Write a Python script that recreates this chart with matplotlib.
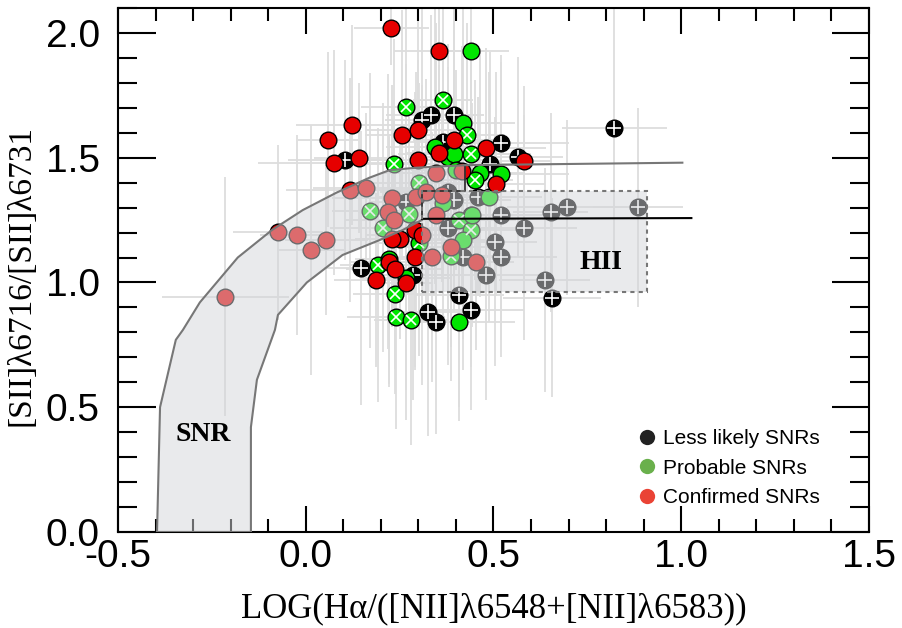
import numpy as np
import matplotlib
matplotlib.use("Agg")
import matplotlib.pyplot as plt
from matplotlib.patches import Polygon, Rectangle
from matplotlib.lines import Line2D
from matplotlib.ticker import MultipleLocator, FormatStrFormatter

# Less likely SNRs (black)
x_less = [0.104, 0.310, 0.334, 0.396, 0.520, 0.565, 0.491, 0.148, 0.285, 0.407, 0.440,
          0.325, 0.346, 0.655, 0.822, 0.365, 0.378, 0.396, 0.458, 0.520, 0.582, 0.653,
          0.695, 0.378, 0.440, 0.505, 0.520, 0.418, 0.479, 0.636, 0.268, 0.884]
y_less = [1.491, 1.651, 1.671, 1.671, 1.560, 1.504, 1.475, 1.057, 1.030, 0.950, 0.890,
          0.883, 0.843, 0.939, 1.620, 1.564, 1.364, 1.331, 1.344, 1.271, 1.220, 1.281,
          1.301, 1.220, 1.271, 1.164, 1.101, 1.101, 1.030, 1.010, 1.324, 1.301]
xerr_less = [0.15, 0.10, 0.12, 0.08, 0.18, 0.12, 0.20, 0.10, 0.09, 0.12, 0.14, 0.10, 0.11,
             0.13, 0.14, 0.10, 0.12, 0.15, 0.09, 0.18, 0.14, 0.10, 0.16, 0.12, 0.20, 0.11,
             0.15, 0.13, 0.17, 0.12, 0.10, 0.12]
yerr_less = [0.40, 0.45, 0.40, 0.50, 0.35, 0.40, 0.45, 0.55, 0.50, 0.45, 0.40, 0.50, 0.45,
             0.40, 0.55, 0.35, 0.50, 0.45, 0.40, 0.50, 0.45, 0.40, 0.35, 0.55, 0.45, 0.50,
             0.40, 0.45, 0.50, 0.45, 0.55, 0.40]

# Probable SNRs (green); crossed = drawn with a white x
x_prob = [0.440, 0.266, 0.365, 0.418, 0.430, 0.440, 0.235, 0.343, 0.378, 0.396, 0.465,
          0.520, 0.452, 0.489, 0.301, 0.192, 0.221, 0.237, 0.241, 0.281, 0.407, 0.268,
          0.170, 0.205, 0.274, 0.301, 0.365, 0.409, 0.440, 0.418, 0.443, 0.386, 0.401]
y_prob = [1.929, 1.702, 1.731, 1.640, 1.591, 1.515, 1.474, 1.544, 1.504, 1.515, 1.440,
          1.435, 1.411, 1.342, 1.157, 1.070, 1.093, 0.954, 0.861, 0.850, 0.843, 1.017,
          1.288, 1.220, 1.273, 1.400, 1.317, 1.251, 1.212, 1.172, 1.271, 1.106, 1.451]
crossed_prob = [0, 1, 1, 0, 1, 1, 1, 0, 0, 0, 0, 0, 1, 0, 1, 1, 0, 1, 1, 1, 0, 0, 1, 1,
                1, 1, 0, 1, 1, 0, 0, 1, 0]
xerr_prob = [0.10, 0.12, 0.08, 0.14, 0.10, 0.16, 0.11, 0.13, 0.09, 0.15, 0.12, 0.18, 0.10,
             0.14, 0.12, 0.10, 0.09, 0.11, 0.13, 0.10, 0.15, 0.12, 0.10, 0.14, 0.11, 0.13,
             0.09, 0.15, 0.12, 0.10, 0.16, 0.11, 0.12]
yerr_prob = [0.20, 0.45, 0.40, 0.50, 0.45, 0.40, 0.50, 0.55, 0.45, 0.40, 0.50, 0.45, 0.40,
             0.50, 0.45, 0.55, 0.50, 0.40, 0.45, 0.50, 0.40, 0.45, 0.55, 0.50, 0.45, 0.40,
             0.50, 0.45, 0.55, 0.40, 0.45, 0.50, 0.40]

# Confirmed SNRs (red)
x_conf = [0.228, 0.355, 0.123, 0.059, 0.074, 0.141, 0.257, 0.299, 0.299, 0.354, 0.396,
          0.479, 0.582, 0.507, 0.416, 0.290, 0.250, 0.231, 0.310, 0.290, 0.221, 0.237,
          0.186, 0.266, 0.117, 0.160, -0.074, -0.022, 0.013, 0.055, -0.214, 0.230, 0.219,
          0.235, 0.294, 0.319, 0.363, 0.346, 0.346, 0.337, 0.386, 0.454]
y_conf = [2.021, 1.929, 1.630, 1.572, 1.480, 1.500, 1.591, 1.611, 1.491, 1.520, 1.571,
          1.540, 1.488, 1.394, 1.448, 1.212, 1.173, 1.173, 1.190, 1.101, 1.083, 1.053,
          1.010, 0.999, 1.371, 1.380, 1.201, 1.190, 1.130, 1.170, 0.943, 1.340, 1.284,
          1.250, 1.344, 1.364, 1.351, 1.438, 1.271, 1.101, 1.141, 1.081]
xerr_conf = [0.10, 0.12, 0.15, 0.08, 0.20, 0.12, 0.10, 0.14, 0.18, 0.09, 0.11, 0.16, 0.07,
             0.13, 0.10, 0.06, 0.12, 0.09, 0.15, 0.08, 0.10, 0.13, 0.11, 0.07, 0.17, 0.14,
             0.12, 0.10, 0.09, 0.11, 0.17, 0.16, 0.08, 0.13, 0.10, 0.12, 0.09, 0.14, 0.11,
             0.08, 0.12, 0.10]
yerr_conf = [0.15, 0.30, 0.40, 0.35, 0.45, 0.30, 0.50, 0.45, 0.40, 0.35, 0.55, 0.40, 0.30,
             0.45, 0.50, 0.55, 0.40, 0.35, 0.60, 0.45, 0.50, 0.40, 0.35, 0.55, 0.45, 0.30,
             0.35, 0.40, 0.50, 0.30, 0.48, 0.45, 0.55, 0.40, 0.50, 0.45, 0.35, 0.60, 0.45,
             0.50, 0.40, 0.35]

# SNR region boundaries
snr_upper_x = [-0.396, -0.388, -0.346, -0.327, -0.282, -0.181, -0.090, -0.008, 0.082,
               0.170, 0.223, 0.295, 0.423]
snr_upper_y = [0.0, 0.50, 0.77, 0.81, 0.92, 1.10, 1.21, 1.29, 1.36, 1.42, 1.45, 1.46, 1.47]
snr_lower_x = [-0.146, -0.146, -0.130, -0.082, -0.074, 0.003, 0.098, 0.197, 0.258, 0.309]
snr_lower_y = [0.0, 0.42, 0.61, 0.81, 0.87, 1.00, 1.11, 1.17, 1.21, 1.25]
step_x = [0.423, 0.423, 0.310, 0.310]
step_y = [1.47, 1.367, 1.367, 1.255]
upper_ext_x = [0.423, 1.003]
upper_ext_y = [1.47, 1.48]
lower_ext_x = [0.310, 1.027]
lower_ext_y = [1.255, 1.258]

# HII box
hii_x0, hii_x1 = 0.31, 0.91
hii_y0, hii_y1 = 0.962, 1.367

plt.rcParams['font.family'] = 'Liberation Sans'

fig = plt.figure(figsize=(9.02, 6.28), dpi=100)
ax = fig.add_axes([0.1308, 0.1529, 0.8326, 0.8344])

err_kw = dict(fmt='none', ecolor='#dddddd', elinewidth=1.3, capsize=0, zorder=1)
ax.errorbar(x_less, y_less, xerr=xerr_less, yerr=yerr_less, **err_kw)
ax.errorbar(x_prob, y_prob, xerr=xerr_prob, yerr=yerr_prob, **err_kw)
ax.errorbar(x_conf, y_conf, xerr=xerr_conf, yerr=yerr_conf, **err_kw)

ms = 12
ax.plot(x_less, y_less, 'o', ms=ms, mfc='black', mec='black', mew=1, zorder=2)
ax.plot(x_less, y_less, '+', ms=ms * 0.85, mec='white', mew=1.2, zorder=2.1)

xp = np.array(x_prob)
yp = np.array(y_prob)
cp = np.array(crossed_prob, dtype=bool)
ax.plot(xp, yp, 'o', ms=ms, mfc='#00e600', mec='black', mew=1, zorder=2.2)
ax.plot(xp[cp], yp[cp], 'x', ms=ms * 0.6, mec='white', mew=1.2, zorder=2.3)

ax.plot(x_conf, y_conf, 'o', ms=ms, mfc='#e60000', mec='black', mew=1, zorder=2.4)

# shaded regions on top of the points
fill = '#d4d6da'
snr_poly = list(zip(snr_upper_x, snr_upper_y)) + list(zip(step_x[1:], step_y[1:])) + \
    list(zip(snr_lower_x[::-1], snr_lower_y[::-1]))
ax.add_patch(Polygon(snr_poly, closed=True, facecolor=fill, alpha=0.5,
                     edgecolor='none', zorder=3))
ax.plot(snr_upper_x, snr_upper_y, color='#777777', lw=1.5, zorder=4)
ax.plot(snr_lower_x, snr_lower_y, color='#777777', lw=1.5, zorder=4)
ax.plot([snr_upper_x[0], snr_lower_x[0]], [0, 0], color='#777777', lw=1.5, zorder=4)
ax.plot(step_x, step_y, color='#333333', lw=1.3, zorder=4)
ax.plot(upper_ext_x, upper_ext_y, color='#777777', lw=1.5, zorder=4)
ax.plot(lower_ext_x, lower_ext_y, color='black', lw=1.5, zorder=4)

ax.add_patch(Rectangle((hii_x0, hii_y0), hii_x1 - hii_x0, hii_y1 - hii_y0,
                       facecolor=fill, alpha=0.5, edgecolor='none', zorder=3))
ax.add_patch(Rectangle((hii_x0, hii_y0), hii_x1 - hii_x0, hii_y1 - hii_y0,
                       facecolor='none', edgecolor='#777777', lw=1.5, ls=(0, (2, 2)),
                       zorder=4))

ax.text(-0.274, 0.389, 'SNR', family='Liberation Serif', fontweight='bold', fontsize=20,
        ha='center', va='center', zorder=5)
ax.text(0.787, 1.078, 'HII', family='Liberation Serif', fontweight='bold', fontsize=20,
        ha='center', va='center', zorder=5)

ax.set_xlim(-0.5, 1.5)
ax.set_ylim(0, 2.1)
ax.xaxis.set_major_locator(MultipleLocator(0.5))
ax.xaxis.set_minor_locator(MultipleLocator(0.1))
ax.yaxis.set_major_locator(MultipleLocator(0.5))
ax.yaxis.set_minor_locator(MultipleLocator(0.1))
ax.xaxis.set_major_formatter(FormatStrFormatter('%.1f'))
ax.yaxis.set_major_formatter(FormatStrFormatter('%.1f'))
ax.tick_params(axis='x', which='major', direction='in', length=19, width=1.5,
               top=True, labelsize=28, pad=5)
ax.tick_params(axis='x', which='minor', direction='in', length=9.5, width=1.5, top=True)
ax.tick_params(axis='y', which='major', direction='in', length=27, width=1.5,
               right=True, labelsize=28, pad=13)
ax.tick_params(axis='y', which='minor', direction='in', length=14, width=1.5, right=True)
for s in ax.spines.values():
    s.set_linewidth(1.5)

ax.set_xlabel('LOG(Hα/([NII]λ6548+[NII]λ6583))', family='Liberation Serif', fontsize=25)
ax.set_ylabel('[SII]λ6716/[SII]λ6731', family='Liberation Serif', fontsize=24)
ax.xaxis.set_label_coords(0.5, -0.115)
ax.yaxis.set_label_coords(-0.108, 0.49)

handles = [Line2D([], [], ls='none', marker='o', ms=11, mfc='#222222', mec='none'),
           Line2D([], [], ls='none', marker='o', ms=11, mfc='#6ab04c', mec='none'),
           Line2D([], [], ls='none', marker='o', ms=11, mfc='#ea4335', mec='none')]
fig.legend(handles, ['Less likely SNRs', 'Probable SNRs', 'Confirmed SNRs'],
           loc='upper left', bbox_to_anchor=(0.696, 0.330), frameon=False,
           fontsize=15, handlelength=1.0, handletextpad=0.3, labelspacing=0.5,
           borderaxespad=0)

fig.savefig('out.png', dpi=100)
